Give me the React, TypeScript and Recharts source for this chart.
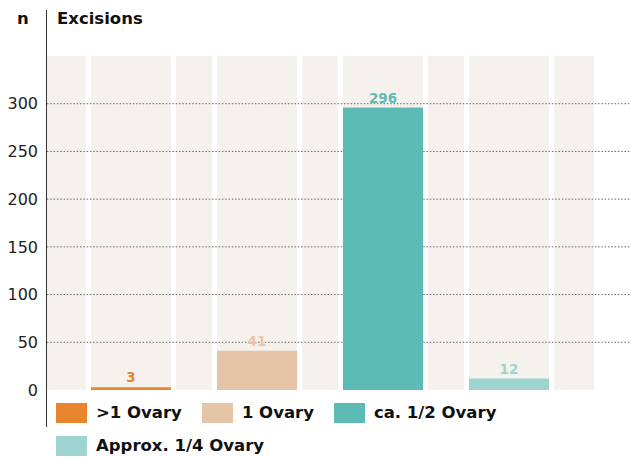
import { BarChart, Bar, XAxis, YAxis, CartesianGrid, Cell, LabelList } from 'recharts'

const CATEGORIES = ['>1 Ovary', '1 Ovary', 'ca. 1/2 Ovary', 'Approx. 1/4 Ovary']
const EXCISIONS = [3, 41, 296, 12]
const Y_TICKS = [0, 50, 100, 150, 200, 250, 300]
const COLORS = ['#e8862f', '#e6c4a8', '#5cbcb5', '#9dd4d2']

const data = CATEGORIES.map((name, i) => ({ name, value: EXCISIONS[i] }))

// layout of the plot, used for the panel stripes behind the bars
const W = 631
const H = 457
const PLOT_LEFT = 47
const PLOT_TOP = 56
const PLOT_BOTTOM = 390
const PAD_LEFT = 21
const PAD_RIGHT = 59
const BAR = 80
const GAP = 5
const STEP = (W - PLOT_LEFT - PAD_LEFT - PAD_RIGHT) / CATEGORIES.length

const barLefts = CATEGORIES.map((_, i) => PLOT_LEFT + PAD_LEFT + i * STEP + (STEP - BAR) / 2)
const stripeXs = barLefts.flatMap((x) => [x - GAP / 2, x + BAR + GAP / 2])
const panelRight = barLefts[barLefts.length - 1] + BAR + 45

const FONT = '"DejaVu Sans", sans-serif'

function ValueLabel(props: any) {
  const { x, y, width, value, index } = props
  return (
    <text
      x={x + width / 2}
      y={y - 5}
      textAnchor="middle"
      fill={COLORS[index]}
      fontFamily={FONT}
      fontWeight={700}
      fontSize={13.5}
    >
      {value}
    </text>
  )
}

export default function App() {
  return (
    <div style={{ position: 'relative', width: W, height: H, fontFamily: FONT }}>
      <style>{'body { margin: 0; }'}</style>

      <div style={{ position: 'absolute', left: 17, top: 11, fontSize: 16.5, fontWeight: 700, lineHeight: '16px', color: '#111' }}>
        n
      </div>
      <div style={{ position: 'absolute', left: 57, top: 11, fontSize: 16.5, fontWeight: 700, lineHeight: '16px', color: '#111' }}>
        Excisions
      </div>
      <div style={{ position: 'absolute', left: 45.5, top: 10, width: 1.5, height: 417, background: '#333' }} />

      <BarChart
        width={W}
        height={H}
        data={data}
        margin={{ top: PLOT_TOP, right: 0, bottom: H - PLOT_BOTTOM, left: 0 }}
      >
        <CartesianGrid
          x={PLOT_LEFT}
          width={panelRight - PLOT_LEFT}
          fill="#f5f2ed"
          horizontal={false}
          verticalPoints={stripeXs}
          stroke="#ffffff"
          strokeWidth={GAP}
        />
        <CartesianGrid
          vertical={false}
          horizontalValues={Y_TICKS.slice(1)}
          stroke="#666"
          strokeDasharray="1.5 1.8"
        />
        <XAxis
          dataKey="name"
          height={0}
          tick={false}
          tickLine={false}
          axisLine={{ stroke: '#444', strokeWidth: 1.5 }}
          padding={{ left: PAD_LEFT, right: PAD_RIGHT }}
        />
        <YAxis
          width={PLOT_LEFT}
          domain={[0, 350]}
          ticks={Y_TICKS}
          axisLine={false}
          tickLine={false}
          tickSize={0}
          tickMargin={9}
          tick={{ fill: '#222', fontSize: 16, fontFamily: FONT }}
        />
        <Bar dataKey="value" barSize={BAR} isAnimationActive={false}>
          {data.map((d, i) => (
            <Cell key={d.name} fill={COLORS[i]} />
          ))}
          <LabelList dataKey="value" content={ValueLabel} />
        </Bar>
      </BarChart>

      <div
        style={{
          position: 'absolute',
          left: 56,
          top: 403,
          width: 540,
          display: 'flex',
          flexWrap: 'wrap',
          columnGap: 20,
          rowGap: 13,
          fontSize: 16.5,
          fontWeight: 700,
          color: '#111',
        }}
      >
        {CATEGORIES.map((c, i) => (
          <div key={c} style={{ display: 'flex', alignItems: 'center', height: 20, lineHeight: '20px' }}>
            <span style={{ display: 'inline-block', width: 31, height: 20, background: COLORS[i], marginRight: 9 }} />
            {c}
          </div>
        ))}
      </div>
    </div>
  )
}
